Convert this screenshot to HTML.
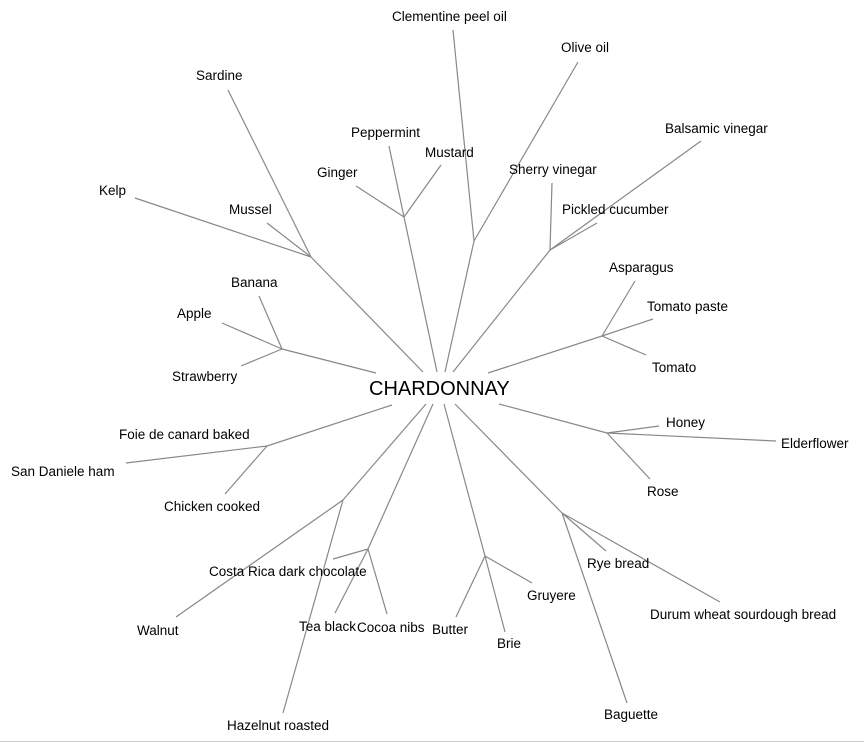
<!DOCTYPE html>
<html><head><meta charset="utf-8"><style>
html,body{margin:0;padding:0;background:#fff;}
svg{display:block;}
text{font-family:"Liberation Sans",Arial,sans-serif;font-size:13.5px;fill:#000;}
line{stroke:#888;stroke-width:1.2;}
</style></head><body>
<svg width="864" height="743" viewBox="0 0 864 743" xmlns="http://www.w3.org/2000/svg">
<g>
<line x1="423" y1="372" x2="311" y2="257"/>
<line x1="311" y1="257" x2="228" y2="90"/>
<line x1="311" y1="257" x2="135" y2="198"/>
<line x1="311" y1="257" x2="267" y2="223"/>
<line x1="437" y1="372" x2="404" y2="217"/>
<line x1="404" y1="217" x2="389" y2="146"/>
<line x1="404" y1="217" x2="441" y2="165"/>
<line x1="404" y1="217" x2="356" y2="186"/>
<line x1="445" y1="372" x2="474" y2="241"/>
<line x1="474" y1="241" x2="453" y2="30"/>
<line x1="474" y1="241" x2="578" y2="62"/>
<line x1="453" y1="372" x2="550" y2="250"/>
<line x1="550" y1="250" x2="552" y2="183"/>
<line x1="550" y1="250" x2="597" y2="223"/>
<line x1="550" y1="250" x2="701" y2="141"/>
<line x1="376" y1="373" x2="282" y2="349"/>
<line x1="282" y1="349" x2="259" y2="296"/>
<line x1="282" y1="349" x2="222" y2="323"/>
<line x1="282" y1="349" x2="241" y2="366"/>
<line x1="488" y1="373" x2="602" y2="336"/>
<line x1="602" y1="336" x2="635" y2="281"/>
<line x1="602" y1="336" x2="653" y2="319"/>
<line x1="602" y1="336" x2="646" y2="355"/>
<line x1="499" y1="404" x2="607" y2="433"/>
<line x1="607" y1="433" x2="659" y2="426"/>
<line x1="607" y1="433" x2="776" y2="441"/>
<line x1="607" y1="433" x2="650" y2="479"/>
<line x1="392" y1="405" x2="267" y2="446"/>
<line x1="267" y1="446" x2="126" y2="463"/>
<line x1="267" y1="446" x2="225" y2="494"/>
<line x1="426" y1="404" x2="343" y2="500"/>
<line x1="343" y1="500" x2="176" y2="617"/>
<line x1="343" y1="500" x2="283" y2="713"/>
<line x1="433" y1="404" x2="368" y2="549"/>
<line x1="368" y1="549" x2="333" y2="559"/>
<line x1="368" y1="549" x2="335" y2="613"/>
<line x1="368" y1="549" x2="387" y2="614"/>
<line x1="444" y1="404" x2="485" y2="556"/>
<line x1="485" y1="556" x2="456" y2="617"/>
<line x1="485" y1="556" x2="505" y2="632"/>
<line x1="485" y1="556" x2="532" y2="583"/>
<line x1="455" y1="404" x2="562" y2="513"/>
<line x1="562" y1="513" x2="606" y2="551"/>
<line x1="562" y1="513" x2="627" y2="703"/>
<line x1="562" y1="513" x2="720" y2="602"/>
<line x1="0" y1="741.5" x2="864" y2="741.5" style="stroke:#ccc;stroke-width:1"/>
</g>
<text x="392" y="21">Clementine peel oil</text>
<text x="561" y="52">Olive oil</text>
<text x="196" y="80">Sardine</text>
<text x="351" y="137">Peppermint</text>
<text x="425" y="157">Mustard</text>
<text x="317" y="177">Ginger</text>
<text x="509" y="174">Sherry vinegar</text>
<text x="665" y="133">Balsamic vinegar</text>
<text x="99" y="195">Kelp</text>
<text x="229" y="214">Mussel</text>
<text x="562" y="214">Pickled cucumber</text>
<text x="609" y="272">Asparagus</text>
<text x="231" y="287">Banana</text>
<text x="647" y="311">Tomato paste</text>
<text x="177" y="318">Apple</text>
<text x="652" y="372">Tomato</text>
<text x="172" y="381">Strawberry</text>
<text x="369" y="395" style="font-size:20px">CHARDONNAY</text>
<text x="666" y="427">Honey</text>
<text x="119" y="439">Foie de canard baked</text>
<text x="781" y="448">Elderflower</text>
<text x="11" y="476">San Daniele ham</text>
<text x="647" y="496">Rose</text>
<text x="164" y="511">Chicken cooked</text>
<text x="587" y="568">Rye bread</text>
<text x="209" y="576">Costa Rica dark chocolate</text>
<text x="527" y="600">Gruyere</text>
<text x="650" y="619">Durum wheat sourdough bread</text>
<text x="299" y="631">Tea black</text>
<text x="357" y="632">Cocoa nibs</text>
<text x="432" y="634">Butter</text>
<text x="137" y="635">Walnut</text>
<text x="497" y="648">Brie</text>
<text x="604" y="719">Baguette</text>
<text x="227" y="730">Hazelnut roasted</text>
</svg>
</body></html>
